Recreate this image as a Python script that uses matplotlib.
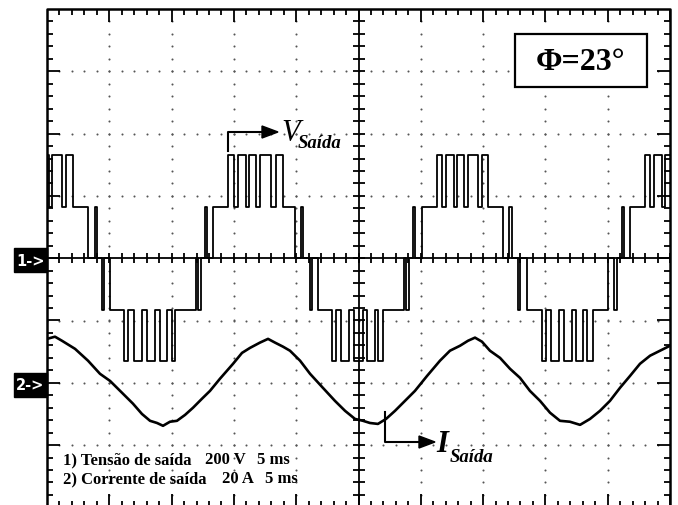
import numpy as np
import matplotlib
matplotlib.use('Agg')
from matplotlib import pyplot as plt
from matplotlib.patches import Rectangle, Polygon
from matplotlib.collections import LineCollection

# channel 1: output voltage, step breakpoints (ms, V)
v_times = [0.0, 0.16, 0.40, 1.20, 1.52, 2.09, 3.29, 3.85, 4.01,
           4.41, 4.57, 5.06, 6.18, 6.50, 6.98, 7.62, 8.03, 8.67, 9.07, 9.63, 10.03, 10.27, 11.96, 12.12, 12.36,
           12.68, 12.84, 13.32, 14.53, 15.01, 15.33, 15.97, 16.21, 16.77, 17.09, 17.98, 18.38, 18.94, 19.90, 20.39, 20.55,
           21.11, 21.27, 21.75, 22.87, 23.19, 23.60, 24.24, 24.64, 25.36, 25.68, 26.32, 26.56, 26.97, 28.65, 28.81, 29.05,
           29.37, 29.53, 30.10, 31.30, 31.70, 32.02, 32.66, 32.91, 33.47, 33.79, 34.59, 34.91, 35.39, 36.60, 37.08, 37.32,
           37.80, 37.96, 38.52, 39.73, 40.05, 40.45, 41.09, 41.49, 42.13, 42.46, 43.02, 43.34, 43.82, 45.02, 45.51, 45.75,
           46.15, 46.31, 46.79, 47.99, 48.40, 48.72, 49.36, 49.60, 50.0]
v_levels = [330, 165, 330, 165, 330, 165, 0, 165, 0,
            -165, 0, -165, -330, -165, -330, -165, -330, -165, -330, -165, -330, -165, 0, -165, 0,
            165, 0, 165, 330, 165, 330, 165, 330, 165, 330, 165, 330, 165, 0, 165, 0,
            -165, 0, -165, -330, -165, -330, -165, -330, -165, -330, -165, -330, -165, 0, -165, 0,
            165, 0, 165, 330, 165, 330, 165, 330, 165, 330, 165, 330, 165, 0, 165, 0,
            -165, 0, -165, -330, -165, -330, -165, -330, -165, -330, -165, -330, -165, 0, -165, 0,
            165, 0, 165, 330, 165, 330, 165, 330, 330]

# channel 2: output current (ms, A)
i_times = [0.0, 0.64, 1.20, 2.25, 3.29, 4.25, 5.06, 6.02, 6.90, 7.62, 8.27, 8.83, 9.31, 9.87, 10.43,
           11.08, 11.72, 12.44, 13.08, 13.88, 14.93, 15.65, 16.29, 17.09, 17.74, 18.30, 18.94, 19.50,
           20.31, 21.11, 22.07, 23.11, 23.92, 24.72, 25.36, 25.92, 26.56, 27.21, 27.93, 28.73, 29.53,
           30.50, 31.54, 32.34, 33.15, 33.79, 34.35, 34.91, 35.55, 36.36, 37.16, 37.96, 38.76, 39.57,
           40.37, 41.17, 41.97, 42.78, 43.58, 44.38, 45.18, 45.99, 46.79, 47.59, 48.40, 49.20, 50.0]
i_values = [14.1, 14.8, 13.5, 10.9, 7.1, 2.9, 0.6, -3.2, -6.7, -10.0, -12.2, -12.9, -13.8, -12.5, -12.2,
            -10.3, -8.0, -5.1, -2.6, 1.3, 6.1, 9.6, 11.2, 12.9, 14.1, 12.9, 11.6, 10.3,
            7.1, 2.9, -1.3, -5.8, -9.0, -11.6, -12.2, -12.9, -13.2, -11.6, -9.0, -5.8, -2.6,
            2.2, 7.1, 10.3, 11.9, 13.5, 14.5, 13.2, 10.3, 8.0, 4.5, 1.6, -2.6, -5.8,
            -9.6, -12.2, -12.5, -13.5, -11.6, -9.0, -5.8, -1.6, 2.2, 6.1, 8.7, 10.3, 11.9]

V_DIV = 200.0
I_DIV = 20.0
T_DIV = 5.0
CH2_OFFSET = -2.0

# pixel helpers (graticule: left 47 px, top 10 px, ~62.3 px/div)
PX = 62.3
PY = 62.3
def px2x(p):
    return (p - 47) / PX
def px2y(p):
    return 4 - (p - 10) / PY

fig = plt.figure(figsize=(6.78, 5.06), dpi=100)
ax = fig.add_axes([47 / 678, (506 - 508.4) / 506, 623 / 678, 498.4 / 506])
ax.set_xlim(0, 10)
ax.set_ylim(-4, 4)
ax.axis('off')

# dotted graticule
dots_x, dots_y = [], []
for xi in range(1, 10):
    if xi == 5:
        continue
    for yy in np.arange(-4, 4.001, 0.2):
        dots_x.append(xi); dots_y.append(yy)
for yi in range(-3, 4):
    if yi == 0:
        continue
    for xx in np.arange(0, 10.001, 0.2):
        dots_x.append(xx); dots_y.append(yi)
ax.scatter(dots_x, dots_y, s=2.2, color='#555555', linewidths=0, zorder=1)

# frame ticks
segs = []
for k, xx in enumerate(np.arange(0, 10.001, 0.2)):
    major = (k % 5 == 0)
    L = (13 if major else 6) / PY
    segs.append([(xx, 4), (xx, 4 - L)])
    segs.append([(xx, -4), (xx, -4 + L)])
    c = 5 / PY
    segs.append([(xx, -c), (xx, c)])
for k, yy in enumerate(np.arange(-4, 4.001, 0.2)):
    major = (k % 5 == 0)
    L = (13 if major else 6) / PX
    segs.append([(0, yy), (L, yy)])
    segs.append([(10, yy), (10 - L, yy)])
    c = 6 / PX
    segs.append([(5 - c, yy), (5 + c, yy)])
ax.add_collection(LineCollection(segs, colors='k', linewidths=1.3, zorder=2))
ax.plot([0, 10], [0, 0], color='k', lw=1.3, zorder=2)
ax.plot([5, 5], [-4, 4], color='k', lw=1.3, zorder=2)
ax.plot([0, 10, 10, 0, 0], [-4, -4, 4, 4, -4], color='k', lw=1.8, zorder=2, clip_on=False)

# traces
vt = np.array(v_times) / T_DIV
vy = np.array(v_levels) / V_DIV
ax.step(vt, vy, where='post', color='k', lw=1.3, zorder=3)
it = np.array(i_times) / T_DIV
iy = np.array(i_values) / I_DIV + CH2_OFFSET
ax.plot(it, iy, color='k', lw=1.9, zorder=3)

# channel markers
for lab, y0 in [('1->', 0.0), ('2->', CH2_OFFSET)]:
    top = y0 + 10 / PY
    h = 24 / PY
    ax.add_patch(Rectangle((px2x(14), top - h), px2x(47) - px2x(14), h, facecolor='k',
                           edgecolor='k', clip_on=False, zorder=4))
    ax.text(px2x(30.5), top - h / 2, lab, color='white', fontsize=10.5, fontweight='bold',
            ha='center', va='center', family='DejaVu Sans', clip_on=False, zorder=5)

# phase box
ax.add_patch(Rectangle((px2x(515), px2y(88)), px2x(647) - px2x(515), px2y(35) - px2y(88),
                       facecolor='white', edgecolor='k', lw=1.6, zorder=4))
ax.text(px2x(581), px2y(62), 'Φ=23°', fontsize=23, fontweight='bold', family='Liberation Serif',
        ha='center', va='center', zorder=5)

# V label arrow
ax.plot([px2x(228), px2x(228), px2x(263)], [px2y(152), px2y(133), px2y(133)], color='k', lw=1.5, zorder=4)
ax.add_patch(Polygon([(px2x(262), px2y(127)), (px2x(262), px2y(139)), (px2x(278), px2y(133))],
                     closed=True, facecolor='k', edgecolor='k', zorder=4))
ax.text(px2x(281), px2y(141), 'V', fontsize=22, style='italic', family='Liberation Serif',
        ha='left', va='baseline', zorder=5)
ax.text(px2x(298), px2y(148), 'Saída', fontsize=13.5, style='italic', fontweight='bold',
        family='Liberation Serif', ha='left', va='baseline', zorder=5)

# I label arrow
ax.plot([px2x(385), px2x(385), px2x(420)], [px2y(413), px2y(443), px2y(443)], color='k', lw=1.5, zorder=4)
ax.add_patch(Polygon([(px2x(419), px2y(437)), (px2x(419), px2y(449)), (px2x(435), px2y(443))],
                     closed=True, facecolor='k', edgecolor='k', zorder=4))
ax.text(px2x(436), px2y(452), 'I', fontsize=22, style='italic', fontweight='bold', family='Liberation Serif',
        ha='left', va='baseline', zorder=5)
ax.text(px2x(450), px2y(462), 'Saída', fontsize=13.5, style='italic', fontweight='bold',
        family='Liberation Serif', ha='left', va='baseline', zorder=5)

# legend text
fs = 12
for txt, xp, yp in [('1) Tensão de saída', 63, 464), ('200 V', 205, 464), ('5 ms', 257, 464),
                    ('2) Corrente de saída', 63, 483), ('20 A', 222, 483), ('5 ms', 265, 483)]:
    ax.text(px2x(xp), px2y(yp), txt, fontsize=fs, fontweight='bold', family='Liberation Serif',
            ha='left', va='baseline', zorder=5)

fig.savefig('out.png', dpi=100)
